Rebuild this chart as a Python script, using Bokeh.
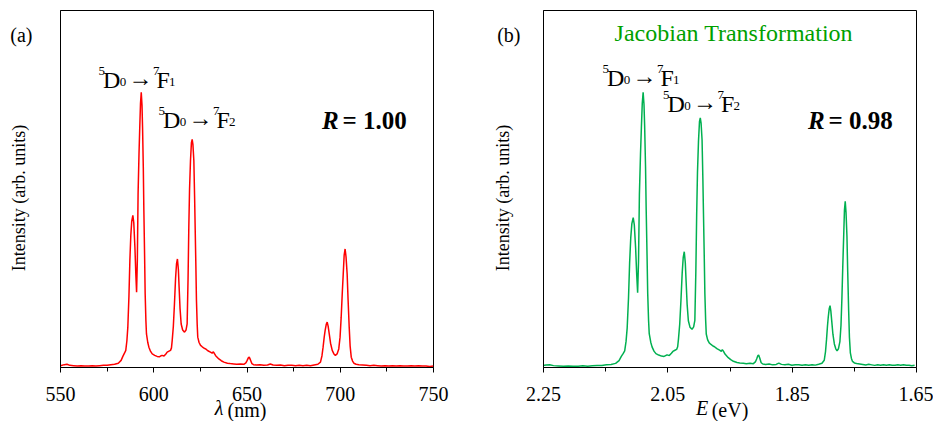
from bokeh.plotting import figure
from bokeh.models import Range1d, FixedTicker, PrintfTickFormatter, Label, LinearAxis
from bokeh.layouts import row
from bokeh.embed import file_html
from bokeh.resources import INLINE

# Emission spectrum, wavelength domain
wavelength_nm = [
    550, 552, 553.5, 555, 557, 559, 561, 563, 565, 567, 569, 571, 573, 575, 577, 579, 581,
    582.5, 583.5, 584.3, 585.0, 585.6, 586.1, 586.7, 587.2, 587.7, 588.2, 588.8, 589.3,
    589.9, 590.4, 590.8, 591.2, 591.6, 592.1, 592.5, 592.9, 593.3, 593.7, 594.0, 594.4,
    594.7, 595.1, 595.4, 595.8, 596.1, 596.8, 597.4, 598.3, 599.2, 600.5, 601.8, 603.0,
    604.0, 604.5, 605.5, 606.5, 607.2, 608.2, 609.0, 609.5, 609.9, 610.5, 611.1, 611.7,
    612.2, 612.7, 613.2, 613.6, 614.1, 614.7, 615.5, 616.5, 617.3, 617.9, 618.4, 618.8,
    619.2, 619.7, 620.2, 620.6, 621.0, 621.5, 621.9, 622.2, 622.6, 622.9, 623.3, 623.6,
    624.3, 625.1, 626.0, 627.0, 627.8, 629.0, 630.4, 631.3, 631.8, 632.3, 633.2, 634.9,
    636.2, 637.6, 639.5, 641.0, 642.9, 644.5, 646.5, 648.3, 649.4, 650.1, 650.7, 651.2,
    651.8, 652.6, 653.5, 655, 657, 659, 661, 662.5, 664, 666, 668, 670, 672, 674, 676,
    678, 680, 682, 684, 686, 688, 689.4, 690.2, 690.8, 691.4, 691.9, 692.5, 693.0, 693.5,
    694.1, 694.8, 695.7, 696.6, 697.4, 698.3, 699.2, 699.9, 700.5, 701.1, 701.6, 702.1,
    702.6, 703.1, 703.7, 704.2, 704.8, 705.3, 705.9, 706.6, 707.3, 708.5, 710, 712, 714,
    716, 718, 720, 722, 724, 726, 728, 730, 732, 734, 736, 738, 740, 742, 744, 746, 748, 750,
]
intensity_nm = [
    0.005, 0.008, 0.009, 0.006, 0.005, 0.004, 0.005, 0.004, 0.004, 0.005, 0.004, 0.005,
    0.006, 0.006, 0.008, 0.009, 0.012,
    0.020, 0.032, 0.040, 0.048, 0.075, 0.113, 0.200, 0.300, 0.370, 0.410, 0.426, 0.405,
    0.337, 0.260, 0.211, 0.300, 0.487, 0.600, 0.673, 0.740, 0.771, 0.735, 0.673, 0.560,
    0.440, 0.310, 0.206, 0.130, 0.094, 0.070, 0.057, 0.045, 0.038, 0.034, 0.031, 0.030,
    0.033, 0.034, 0.032, 0.038, 0.043, 0.046, 0.048, 0.055, 0.076, 0.115, 0.178, 0.250,
    0.290, 0.304, 0.275, 0.225, 0.165, 0.122, 0.105, 0.099, 0.105, 0.122, 0.250, 0.393,
    0.500, 0.580, 0.630, 0.639, 0.625, 0.580, 0.480, 0.393, 0.280, 0.188, 0.120, 0.085,
    0.070, 0.062, 0.058, 0.054, 0.052, 0.047, 0.043, 0.040, 0.044, 0.041, 0.033, 0.024,
    0.019, 0.015, 0.012, 0.011, 0.010, 0.009, 0.010, 0.009, 0.013, 0.020, 0.027, 0.029,
    0.022, 0.011, 0.008, 0.007, 0.008, 0.006, 0.007, 0.010, 0.007, 0.006, 0.007, 0.005,
    0.006, 0.006, 0.005,
    0.006, 0.005, 0.006, 0.005, 0.007, 0.009, 0.015, 0.033, 0.057, 0.085, 0.104, 0.121,
    0.127, 0.116,
    0.094, 0.068, 0.048, 0.038, 0.034, 0.038, 0.052, 0.085, 0.141, 0.210, 0.262, 0.315,
    0.332, 0.310, 0.262, 0.190, 0.113, 0.060, 0.029, 0.018, 0.012, 0.009, 0.008, 0.007,
    0.006,
    0.005, 0.006, 0.005, 0.004, 0.005, 0.004, 0.005, 0.004, 0.005, 0.004, 0.004, 0.005,
    0.004, 0.005, 0.004, 0.004, 0.003, 0.004,
]

HC_EV_NM = 1239.84  # h*c in eV*nm

# Jacobian transformation to the energy domain: I(E) dE = I(lambda) dlambda,
# so I(E) is proportional to lambda^2 * I(lambda); normalised on the strongest line.
energy_ev = [HC_EV_NM / w for w in wavelength_nm]
i_peak = max(range(len(intensity_nm)), key=intensity_nm.__getitem__)
lam_peak = wavelength_nm[i_peak]
intensity_ev = [i * (w / lam_peak) ** 2 for w, i in zip(wavelength_nm, intensity_nm)]

nm_ticks = [550, 600, 650, 700, 750]
nm_minor = [575, 625, 675, 725]
ev_ticks = [2.25, 2.05, 1.85, 1.65]
ev_minor = [2.15, 1.95, 1.75]

SERIF = "Liberation Serif"
RED = "#FF0000"
GREEN = "#00B050"
TITLE_GREEN = "#00A000"
NBSP = "\u00a0"

PANEL_TAG_Y = 0.93  # height of the (a)/(b) tag, in axis units
# The x-axis title sits at the very bottom edge; a negative line height keeps
# its layout box short so the frame keeps its full height.
TITLE_LINE_HEIGHT = -0.45


def make_panel(width, border_left, border_right, x_range, ticks, minor, fmt,
               tag, tag_standoff, ylabel_standoff, x_unit, x_symbol, symbol_at):
    p = figure(width=width, height=421, x_range=x_range, y_range=Range1d(0, 1),
               output_backend="svg", toolbar_location=None,
               min_border_left=border_left, min_border_right=border_right,
               min_border_top=10, min_border_bottom=54)
    p.grid.visible = False
    p.outline_line_color = "black"
    p.outline_line_width = 1
    p.background_fill_color = "white"
    p.border_fill_color = "white"

    # x axis: ticks, tick labels and the unit
    ax = p.xaxis[0]
    ax.ticker = FixedTicker(ticks=ticks, minor_ticks=minor)
    ax.formatter = PrintfTickFormatter(format=fmt)
    ax.axis_line_color = "black"
    ax.major_tick_line_color = "black"
    ax.minor_tick_line_color = "black"
    ax.major_tick_in = 0
    ax.major_tick_out = 5
    ax.minor_tick_in = 0
    ax.minor_tick_out = 4
    ax.major_label_standoff = 14
    ax.major_label_text_font = SERIF
    ax.major_label_text_font_size = "20px"
    ax.major_label_text_color = "black"
    ax.axis_label = x_unit + "\n"
    ax.axis_label_standoff = -5
    ax.axis_label_text_font = SERIF
    ax.axis_label_text_font_size = "20px"
    ax.axis_label_text_font_style = "normal"
    ax.axis_label_text_color = "black"
    ax.axis_label_text_line_height = TITLE_LINE_HEIGHT

    # italic quantity symbol, set on the same row as the unit
    sym = LinearAxis(ticker=FixedTicker(ticks=[symbol_at]),
                     major_label_overrides={symbol_at: x_symbol + "\n"},
                     axis_line_color=None, major_tick_line_color=None,
                     minor_tick_line_color=None, major_tick_in=0, major_tick_out=0,
                     major_label_standoff=-17,
                     major_label_text_font=SERIF, major_label_text_font_size="20px",
                     major_label_text_font_style="italic",
                     major_label_text_color="black",
                     major_label_text_line_height=TITLE_LINE_HEIGHT)
    p.add_layout(sym, "below")

    # y axis: no scale, only the panel tag and the quantity name
    ya = p.yaxis[0]
    ya.ticker = FixedTicker(ticks=[PANEL_TAG_Y])
    ya.major_label_overrides = {PANEL_TAG_Y: tag}
    ya.major_tick_in = 0
    ya.major_tick_out = 0
    ya.major_tick_line_color = None
    ya.minor_tick_line_color = None
    ya.axis_line_color = "black"
    ya.major_label_standoff = tag_standoff
    ya.major_label_text_font = SERIF
    ya.major_label_text_font_size = "20px"
    ya.major_label_text_color = "black"
    ya.axis_label = "Intensity (arb. units)" + NBSP * 4
    ya.axis_label_standoff = ylabel_standoff
    ya.axis_label_text_font = SERIF
    ya.axis_label_text_font_size = "18px"
    ya.axis_label_text_font_style = "normal"
    ya.axis_label_text_color = "black"
    return p


def add_text(p, text, x, y, size, style="normal", color="black", align="left",
             baseline="alphabetic"):
    p.add_layout(Label(text=text, x=x, y=y, x_units="screen", y_units="screen",
                       text_font=SERIF, text_font_size=f"{size}px",
                       text_font_style=style, text_color=color,
                       text_align=align, text_baseline=baseline))


def add_transition(p, x0, y0, final):
    # 5D0 -> 7F(final): superscripts raised, subscripts lowered
    pieces = [
        ("5", 0.0, 9, 13), ("D", 4.5, 0, 24), ("0", 21.2, -2, 13),
        ("\u2192", 30.0, 2, 24), ("7", 54.5, 9, 13), ("F", 58.0, 0, 24),
        (final, 70.5, -2, 13),
    ]
    for txt, dx, dy, size in pieces:
        add_text(p, txt, x0 + dx, y0 + dy, size)


def add_r(p, x0, y0, value):
    add_text(p, "R", x0, y0, 25, style="bold italic")
    add_text(p, "= " + value, x0 + 20.5, y0, 25, style="bold")


# (a) wavelength domain
pa = make_panel(470, 60, 37, Range1d(550, 750), nm_ticks, nm_minor, "%d",
                "(a)", 28, -22, "(nm)", "\u03bb", 635)
pa.line(wavelength_nm, intensity_nm, line_color=RED, line_width=1.5)
add_transition(pa, 38.0, 287.7, "1")
add_transition(pa, 98.0, 247.7, "2")
add_r(pa, 261.5, 247.5, "1.00")

# (b) energy domain
pb = make_panel(463, 73, 17, Range1d(2.25, 1.65), ev_ticks, ev_minor, "%.2f",
                "(b)", 23, -19, "(eV)", "E", 1.995)
pb.line(energy_ev, intensity_ev, line_color=GREEN, line_width=1.5)
add_text(pb, "Jacobian Transformation", 190.3, 334.3, 24, color=TITLE_GREEN,
         align="center")
add_transition(pb, 59.0, 289.3, "1")
add_transition(pb, 119.5, 263.3, "2")
add_r(pb, 264.5, 247.5, "0.98")

layout = row(pa, pb)
open("out.html", "w").write(file_html(layout, INLINE))
